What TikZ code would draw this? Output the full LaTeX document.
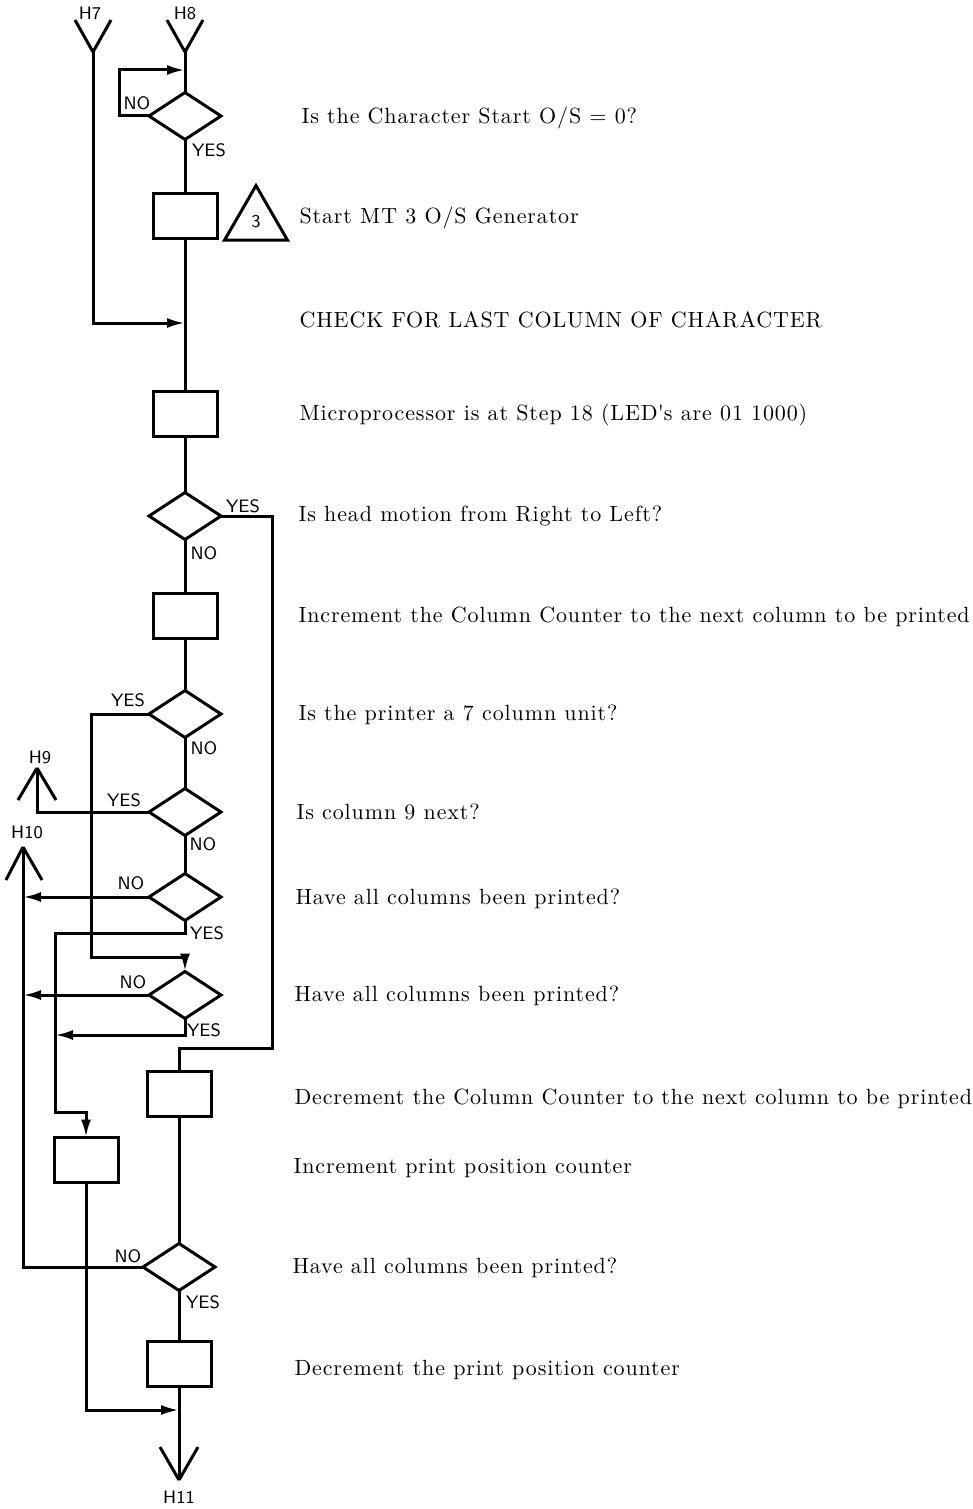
\documentclass[tikz,border=0pt]{standalone}
\usepackage{fontspec}
\usepackage{tikz}
\usetikzlibrary{arrows.meta, shapes.geometric, positioning}
\newfontfamily\notefont[LetterSpace=4]{Latin Modern Roman}
\tikzset{
    boxnode/.style = {draw, rectangle, inner sep=0em, outer sep=0pt, minimum width=32pt, minimum height=22.5pt},
    decisionnode/.style = {draw, diamond, inner sep=0em, outer sep=0pt, minimum width=36pt, minimum height=23.5pt},
    marknode/.style = {draw, regular polygon, regular polygon sides=3, inner sep=0em, outer sep=0pt,
      minimum size=36.4pt, font=\sffamily\fontsize{9}{10}\selectfont},
    textnode/.style = {draw=none, fill=none, rectangle, inner sep=0em, anchor=base west,
      font=\notefont\fontsize{11}{13}\selectfont},
    flagnode/.style = {draw=none, fill=none, inner sep=0em, font=\sffamily\fontsize{9}{10}\selectfont},
    connect/.style = {-{Latex[length=9pt, width=5pt]}},
}

\begin{document}
\begin{tikzpicture}[x=0.5pt, y=-0.5pt, line width=1.5pt, line join=miter]
    \useasboundingbox (0,0) rectangle (973,1509);

    % entry and exit points
    \coordinate (h7) at (93,52);
    \coordinate (h8) at (185,52);
    \coordinate (h9) at (37,768);
    \coordinate (h10) at (23,847);
    \coordinate (h11) at (179,1480);
    \node [name=h7lbl, flagnode] at (90,13) {H7};
    \node [name=h8lbl, flagnode] at (185,13) {H8};
    \node [name=h9lbl, flagnode] at (40,757) {H9};
    \node [name=h10lbl, flagnode] at (27,832) {H10};
    \node [name=h11lbl, flagnode] at (179,1497) {H11};
    \draw (h7) -- ++(-18,-32) (h7) -- ++(18,-32);
    \draw (h8) -- ++(-18,-32) (h8) -- ++(18,-32);
    \draw (h9) -- ++(-19,32) (h9) -- ++(19,32);
    \draw (h10) -- ++(-17,33) (h10) -- ++(19,33);
    \draw (h11) -- ++(-19,-33) (h11) -- ++(19,-33);

    % flow chart blocks
    \node [name=startos, decisionnode] at (185,116) {};
    \node [name=startgen, boxnode] at (185,216) {};
    \node [name=mtmark, marknode] at (256,222) {3};
    \node [name=step18, boxnode] at (185,414) {};
    \node [name=rtol, decisionnode] at (185,516) {};
    \node [name=inccol, boxnode] at (185,616) {};
    \node [name=sevencol, decisionnode] at (185,714) {};
    \node [name=colnine, decisionnode] at (185,812) {};
    \node [name=allcola, decisionnode] at (185,897) {};
    \node [name=allcolb, decisionnode] at (185,995) {};
    \node [name=deccol, boxnode] at (179,1094) {};
    \node [name=incpos, boxnode] at (86,1160) {};
    \node [name=allcolc, decisionnode] at (179,1267) {};
    \node [name=decpos, boxnode] at (179,1364) {};

    % junctions
    \coordinate (loopin) at (185,70);
    \coordinate (h7in) at (185,323);
    \coordinate (rtolbus) at (272,1048);
    \coordinate (sevenbus) at (91,957);
    \coordinate (tenin1) at (23,897);
    \coordinate (tenin2) at (23,995);
    \coordinate (posbus) at (55,1112);
    \coordinate (posin) at (55,1035);
    \coordinate (endin) at (179,1410);

    % connectors
    \draw (h8) -- (startos.north);
    \draw [connect] (startos.west) -- ++(-30,0) |- (loopin);
    \draw (startos.south) -- (startgen.north);
    \draw (startgen.south) -- (step18.north);
    \draw [connect] (h7) |- (h7in);
    \draw (step18.south) -- (rtol.north);
    \draw (rtol.east) -| (rtolbus) -| (deccol.north);
    \draw (rtol.south) -- (inccol.north);
    \draw (inccol.south) -- (sevencol.north);
    \draw [connect] (sevencol.west) -| (sevenbus) -| (allcolb.north);
    \draw (sevencol.south) -- (colnine.north);
    \draw (colnine.west) -| (h9);
    \draw (colnine.south) -- (allcola.north);
    \draw [connect] (allcola.west) -- (tenin1);
    \draw [connect] (allcola.south) -- ++(0,13) -| (posbus) -| (incpos.north);
    \draw [connect] (allcolb.west) -- (tenin2);
    \draw [connect] (allcolb.south) |- (posin);
    \draw (deccol.south) -- (allcolc.north);
    \draw (allcolc.west) -| (h10);
    \draw (allcolc.south) -- (decpos.north);
    \draw (decpos.south) -- (h11);
    \draw [connect] (incpos.south) |- (endin);

    % branch flags
    \node [name=startosno, flagnode] at (137,103) {NO};
    \node [name=startosyes, flagnode] at (209,150) {YES};
    \node [name=rtolyes, flagnode] at (243,506) {YES};
    \node [name=rtolno, flagnode] at (204,553) {NO};
    \node [name=sevenyes, flagnode] at (128,700) {YES};
    \node [name=sevenno, flagnode] at (204,748) {NO};
    \node [name=nineyes, flagnode] at (124,800) {YES};
    \node [name=nineno, flagnode] at (203,844) {NO};
    \node [name=allano, flagnode] at (131,883) {NO};
    \node [name=allayes, flagnode] at (207,933) {YES};
    \node [name=allbno, flagnode] at (133,982) {NO};
    \node [name=allbyes, flagnode] at (204,1030) {YES};
    \node [name=allcno, flagnode] at (128,1256) {NO};
    \node [name=allcyes, flagnode] at (203,1302) {YES};

    % descriptions
    \node [name=txtstartos, textnode] at (300,124) {Is the Character Start O/S = 0?};
    \node [name=txtstartgen, textnode] at (298,223) {Start MT 3 O/S Generator};
    \node [name=txtcheck, textnode] at (298,327) {CHECK FOR LAST COLUMN OF CHARACTER};
    \node [name=txtstep18, textnode] at (298,420) {Microprocessor is at Step 18 (LED\textquotesingle s are 01 1000)};
    \node [name=txtrtol, textnode] at (297,521) {Is head motion from Right to Left?};
    \node [name=txtinccol, textnode] at (297,622) {Increment the Column Counter to the next column to be printed};
    \node [name=txtseven, textnode] at (297,720) {Is the printer a 7 column unit?};
    \node [name=txtnine, textnode] at (295,819) {Is column 9 next?};
    \node [name=txtalla, textnode] at (294,904) {Have all columns been printed?};
    \node [name=txtallb, textnode] at (293,1001) {Have all columns been printed?};
    \node [name=txtdeccol, textnode] at (293,1104) {Decrement the Column Counter to the next column to be printed};
    \node [name=txtincpos, textnode] at (292,1173) {Increment print position counter};
    \node [name=txtallc, textnode] at (291,1273) {Have all columns been printed?};
    \node [name=txtdecpos, textnode] at (293,1375) {Decrement the print position counter};
\end{tikzpicture}
\end{document}
